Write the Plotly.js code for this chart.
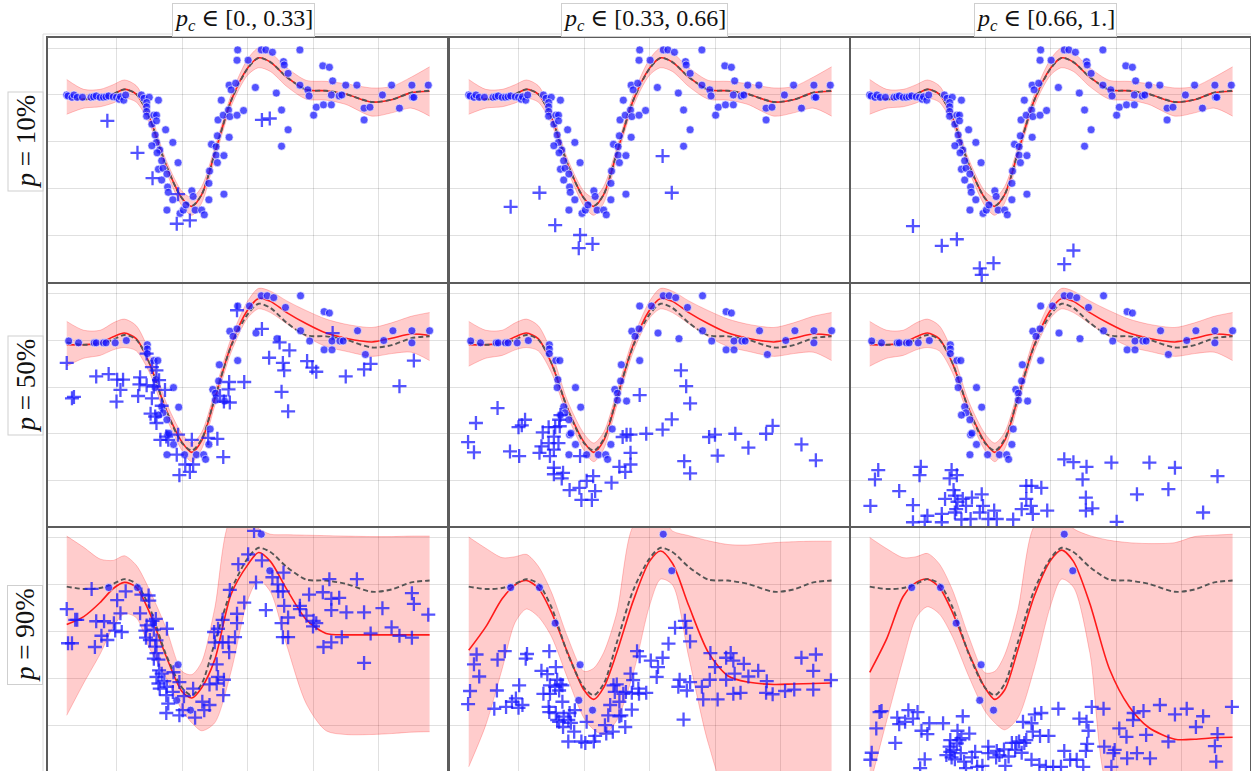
<!DOCTYPE html>
<html><head><meta charset="utf-8">
<script src="https://cdn.plot.ly/plotly-3.0.1.min.js"></script>
<style>html,body{margin:0;padding:0;background:#fff}#chart{width:1251px;height:771px}</style>
</head><body><div id="chart"></div>
<script>
// ---------- labels ----------
const colTitles = ["<i>p<sub>c</sub></i> ∈ [0., 0.33]", "<i>p<sub>c</sub></i> ∈ [0.33, 0.66]", "<i>p<sub>c</sub></i> ∈ [0.66, 1.]"];
const rowTitles = ["<i>p</i> = 10%", "<i>p</i> = 50%", "<i>p</i> = 90%"];

// ---------- GP grid, truth ----------
const gpX   = [-2.76,-2.5,-2.25,-2.05,-1.88,-1.7,-1.5,-1.25,-1.0,-0.85,-0.7,-0.5,-0.25,0,0.17,0.35,0.6,0.9,1.2,1.5,1.9,2.2,2.5,2.78];
const truthY= [0.96,0.91,0.93,1.02,1.12,1.02,0.53,-0.47,-1.2,-1.36,-1.12,-0.24,0.88,1.56,1.79,1.70,1.38,1.11,1.09,1.02,0.85,0.9,1.05,1.09];

// row p=10% (all columns)
const meanR1 = [0.96,0.91,0.93,1.02,1.12,1.02,0.53,-0.47,-1.2,-1.37,-1.12,-0.24,0.88,1.57,1.79,1.70,1.38,1.11,1.09,1.02,0.85,0.9,1.05,1.08];
const loR1   = [0.59,0.72,0.75,0.83,0.93,0.85,0.40,-0.60,-1.36,-1.56,-1.30,-0.37,0.76,1.42,1.58,1.50,1.18,0.91,0.89,0.80,0.55,0.62,0.72,0.55];
const hiR1   = [1.33,1.12,1.12,1.22,1.32,1.20,0.68,-0.36,-1.05,-1.18,-0.95,-0.12,1.00,1.76,2.00,1.90,1.58,1.31,1.29,1.24,1.15,1.18,1.38,1.60];
// row p=50% (all columns)
const meanR2 = [0.91,0.91,0.95,1.08,1.16,1.04,0.52,-0.46,-1.18,-1.40,-1.15,-0.25,0.90,1.65,1.90,1.84,1.60,1.36,1.16,1.05,0.97,1.05,1.14,1.11];
const loR2   = [0.45,0.62,0.68,0.80,0.85,0.78,0.32,-0.62,-1.36,-1.60,-1.33,-0.40,0.75,1.48,1.68,1.60,1.36,1.08,0.87,0.77,0.66,0.72,0.75,0.57];
const hiR2   = [1.41,1.22,1.22,1.38,1.46,1.32,0.76,-0.30,-1.00,-1.20,-0.97,-0.10,1.05,1.84,2.12,2.06,1.85,1.64,1.46,1.35,1.28,1.38,1.52,1.60];
// row p=90%
const meanR3C1 = [0.15,0.32,0.62,0.92,1.05,0.95,0.42,-0.50,-1.28,-1.42,-1.20,-0.60,0.80,1.42,1.69,1.50,0.90,0.25,-0.04,-0.07,-0.07,-0.07,-0.07,-0.07];
const loR3C1   = [-1.79,-1.10,-0.48,0.10,0.38,0.30,-0.35,-0.97,-1.68,-1.95,-2.12,-1.95,-0.85,0.66,1.10,0.85,-0.30,-1.55,-2.12,-2.20,-2.20,-2.18,-2.15,-2.14];
const hiR3C1   = [2.04,1.80,1.55,1.52,1.62,1.42,0.90,0.10,-0.85,-0.92,-0.65,0.50,2.40,2.40,2.20,2.08,2.07,2.06,2.05,2.04,2.03,2.03,2.04,2.04];
const meanR3C2 = [-0.40,0.10,0.70,1.00,1.09,0.93,0.42,-0.45,-1.25,-1.45,-1.20,-0.45,0.65,1.50,1.72,1.46,0.55,-0.45,-0.95,-1.08,-1.13,-1.12,-1.11,-1.10];
const loR3C2   = [-2.89,-2.00,-0.80,0.20,0.48,0.32,-0.10,-1.00,-1.85,-2.10,-2.20,-1.90,-0.90,0.55,1.12,1.00,-0.55,-2.40,-3.50,-3.50,-3.50,-3.50,-3.50,-3.50];
const hiR3C2   = [2.02,1.78,1.58,1.60,1.65,1.40,0.85,-0.12,-0.85,-0.78,-0.45,0.40,2.25,2.50,2.50,2.15,2.05,1.94,1.86,1.85,1.90,1.92,1.93,1.93];
const meanR3C3 = [-0.87,-0.15,0.75,1.05,1.12,0.95,0.42,-0.45,-1.20,-1.45,-1.25,-0.40,0.75,1.52,1.74,1.50,0.60,-0.80,-1.60,-2.05,-2.30,-2.30,-2.27,-2.26];
const loR3C3   = [-3.30,-1.90,-0.60,0.30,0.53,0.38,-0.10,-0.95,-1.70,-1.95,-2.10,-1.85,-0.80,0.55,1.12,0.95,-0.45,-3.40,-3.50,-3.50,-3.50,-3.50,-3.50,-3.50];
const hiR3C3   = [2.01,1.77,1.58,1.60,1.67,1.45,0.90,-0.10,-0.88,-0.85,-0.50,0.45,2.25,2.50,2.50,2.20,2.05,1.95,1.90,1.88,1.90,2.03,2.06,2.08];

// ---------- observed points (dots), shared within a row ----------
const dotsR1 = [[-2.76,1.00],[-2.74,0.98],[-2.68,0.95],[-2.65,1.00],[-2.60,0.95],[-2.52,0.95],[-2.39,0.95],[-2.35,0.96],[-2.31,0.98],[-2.25,0.95],[-2.20,0.95],[-2.16,0.96],[-2.12,0.98],[-2.05,0.96],[-2.00,0.95],[-1.96,0.91],[-1.94,0.96],[-1.89,0.89],[-1.86,1.00],[-1.62,1.00],[-1.58,0.93],[-1.50,0.95],[-1.54,0.84],[-1.54,0.75],[-1.54,0.65],[-1.54,0.55],[-1.43,0.57],[-1.39,0.57],[-1.46,0.38],[-1.39,0.45],[-1.36,0.89],[-1.41,0.15],[-1.39,-0.01],[-1.46,-0.08],[-1.34,-0.17],[-1.38,-0.23],[-1.31,-0.40],[-1.36,-0.58],[-1.29,-0.56],[-1.31,-0.81],[-1.23,-0.68],[-1.22,-0.96],[-1.21,-1.07],[-1.14,-1.23],[-1.23,-1.45],[-1.14,-0.01],[-1.25,0.26],[-1.06,-0.44],[-1.03,-1.52],[-0.98,-1.45],[-0.94,-1.34],[-0.85,-1.04],[-0.83,-1.16],[-0.80,-1.45],[-0.70,-1.45],[-0.66,-1.55],[-0.59,-1.23],[-0.59,-0.88],[-0.58,-0.62],[-0.55,-0.05],[-0.48,-0.28],[-0.46,-0.44],[-0.46,0.13],[-0.48,-0.10],[-0.45,0.47],[-0.40,0.89],[-0.37,0.57],[-0.36,-1.11],[-0.36,-0.29],[-0.29,0.68],[-0.28,0.10],[-0.28,1.21],[-0.25,1.11],[-0.27,0.54],[-0.18,1.25],[-0.15,1.96],[-0.16,1.74],[-0.16,0.57],[-0.06,0.67],[0.01,1.74],[0.12,1.16],[0.21,1.96],[0.28,1.96],[0.38,1.91],[0.44,1.04],[0.52,0.68],[0.52,-0.09],[0.55,1.71],[0.56,1.64],[0.62,1.46],[0.62,0.26],[0.80,1.96],[0.80,1.21],[0.92,1.11],[0.94,0.98],[1.01,0.57],[1.05,0.74],[1.15,1.62],[1.25,1.59],[1.16,0.79],[1.28,1.00],[1.30,1.30],[1.28,0.79],[1.40,0.98],[1.44,1.00],[1.50,1.21],[1.67,1.21],[1.78,0.72],[1.78,0.47],[1.87,0.74],[2.06,1.00],[2.20,1.21],[2.32,0.72],[2.51,1.21],[2.52,0.95],[2.54,0.95],[2.76,1.21]];
const dotsR2 = [[-2.73,0.99],[-2.58,0.95],[-2.34,0.95],[-2.31,0.95],[-2.20,0.95],[-2.16,0.95],[-2.02,0.95],[-1.85,1.00],[-1.53,0.91],[-1.53,0.82],[-1.53,0.72],[-1.43,0.57],[-1.37,0.57],[-1.40,0.16],[-1.41,-0.01],[-1.31,-0.42],[-1.29,-0.55],[-1.36,-0.60],[-1.23,-0.70],[-1.13,-0.01],[-1.05,-0.43],[-1.22,-1.02],[-1.20,-0.99],[-1.13,-1.23],[-1.23,-1.45],[-0.96,-1.45],[-0.78,-1.45],[-0.67,-1.45],[-0.64,-1.55],[-0.59,-1.23],[-0.57,-0.90],[-0.53,-0.05],[-0.49,-0.13],[-0.49,-0.28],[-0.44,0.13],[-0.43,0.48],[-0.35,-0.30],[-0.27,1.20],[-0.22,1.09],[-0.16,1.25],[-0.15,1.74],[-0.15,0.57],[0.03,1.74],[0.13,1.16],[0.21,1.96],[0.30,1.96],[0.40,1.92],[0.45,1.04],[0.58,1.71],[0.81,1.96],[0.81,1.21],[0.95,0.99],[1.17,1.62],[1.25,1.59],[1.17,0.80],[1.29,0.99],[1.29,0.80],[1.41,0.99],[1.46,0.99],[1.68,1.21],[1.80,0.70],[2.08,1.00],[2.22,1.21],[2.51,1.21],[2.51,0.95],[2.78,1.21]];
const dotsR3 = [[-2.12,0.94],[-1.68,0.94],[-1.44,0.18],[-1.06,-0.71],[-1.08,-1.47],[-0.87,-1.68],[0.21,2.08],[0.34,1.30]];

// ---------- censored points (crosses), per panel ----------
const crossR1C1 = [[-2.14,0.45],[-1.68,-0.23],[-1.45,-0.77],[-1.06,-1.11],[-1.08,-1.74],[-0.88,-1.67],[0.22,0.47],[0.34,0.50]];
const crossR1C2 = [[-2.12,-1.38],[-1.68,-1.08],[-1.44,-1.77],[-1.06,-1.98],[-1.08,-2.26],[-0.87,-2.17],[0.20,-0.30],[0.34,-1.08]];
const crossR1C3 = [[-2.10,-1.79],[-1.66,-2.21],[-1.43,-2.07],[-1.08,-2.69],[-1.05,-2.83],[-0.87,-2.58],[0.21,-2.60],[0.35,-2.31]];
const crossR2C1 = [[-2.76,0.52],[-2.68,-0.24],[-2.65,-0.21],[-2.31,0.23],[-2.12,0.28],[-1.99,0.16],[-1.90,0.16],[-1.94,-0.06],[-2.00,-0.31],[-1.67,-0.19],[-1.64,0.21],[-1.65,0.06],[-1.54,0.04],[-1.54,0.72],[-1.46,-0.24],[-1.46,0.43],[-1.39,0.36],[-1.35,0.15],[-1.43,0.01],[-1.48,-0.57],[-1.41,-0.63],[-1.39,-0.77],[-1.31,-0.40],[-1.26,-0.06],[-1.33,-1.13],[-1.24,-1.06],[-1.21,-1.13],[-1.06,-1.02],[-1.08,-1.45],[-0.95,-1.66],[-0.83,-1.66],[-1.04,-1.89],[-0.88,-1.82],[-0.85,-1.13],[-0.60,-1.09],[-0.46,-1.11],[-0.37,-1.50],[-0.42,-0.19],[-0.36,-0.31],[-0.27,-0.33],[-0.29,-0.05],[-0.28,0.11],[-0.05,0.11],[-0.16,1.65],[0.22,1.25],[0.33,0.63],[0.49,0.96],[0.54,0.52],[0.56,0.36],[0.52,-0.10],[0.62,-0.52],[0.64,0.79],[0.91,0.56],[0.99,0.42],[1.05,0.33],[1.30,1.16],[1.50,0.23],[1.78,0.38],[1.88,0.50],[2.32,0.02],[2.54,0.57]];
const crossR2C2 = [[-2.77,-1.18],[-2.68,-1.40],[-2.65,-0.77],[-2.32,-0.45],[-2.13,-1.38],[-1.99,-1.48],[-2.00,-0.86],[-1.95,-0.82],[-1.90,-0.70],[-1.68,-1.41],[-1.65,-1.27],[-1.63,-0.97],[-1.54,-0.86],[-1.52,-1.48],[-1.54,-1.20],[-1.46,-1.06],[-1.44,-0.86],[-1.46,-1.34],[-1.39,-1.20],[-1.38,-0.70],[-1.37,-0.84],[-1.36,-0.60],[-1.46,-1.73],[-1.46,-1.87],[-1.32,-1.84],[-1.34,-1.96],[-1.22,-2.21],[-1.07,-2.16],[-0.96,-2.01],[-0.86,-1.91],[-0.83,-2.23],[-0.88,-2.42],[-1.04,-2.42],[-1.06,-1.48],[-0.58,-2.05],[-0.46,-1.71],[-0.37,-1.82],[-0.29,-1.66],[-0.29,-1.41],[-0.41,-1.07],[-0.35,-1.02],[-0.29,-1.02],[-0.05,-1.00],[-0.15,-0.17],[0.20,-0.91],[0.34,-0.69],[0.48,0.36],[0.56,0.02],[0.62,-0.35],[0.53,-1.59],[0.62,-1.85],[0.91,-1.07],[1.00,-1.02],[1.04,-1.47],[1.31,-1.00],[1.51,-1.30],[1.78,-1.00],[1.88,-0.83],[2.32,-1.23],[2.54,-1.57]];
const crossR2C3 = [[-2.75,-2.55],[-2.68,-1.98],[-2.63,-1.78],[-2.31,-2.23],[-2.10,-2.53],[-2.10,-2.90],[-2.00,-1.89],[-1.98,-1.71],[-1.88,-2.76],[-1.92,-2.89],[-1.66,-2.72],[-1.61,-2.40],[-1.66,-2.90],[-1.54,-1.96],[-1.51,-1.78],[-1.43,-1.89],[-1.48,-2.21],[-1.46,-2.33],[-1.42,-2.46],[-1.44,-2.62],[-1.46,-2.69],[-1.34,-2.40],[-1.29,-2.55],[-1.36,-2.84],[-1.22,-2.83],[-1.20,-2.37],[-1.05,-2.30],[-1.03,-2.55],[-1.08,-2.69],[-0.95,-2.83],[-0.86,-2.65],[-0.82,-2.83],[-0.57,-2.84],[-0.44,-2.62],[-0.37,-2.40],[-0.37,-2.12],[-0.29,-2.12],[-0.27,-2.72],[-0.30,-2.55],[-0.14,-2.16],[-0.05,-2.65],[0.21,-1.55],[0.35,-1.61],[0.49,-1.98],[0.55,-1.71],[0.54,-2.37],[0.54,-2.65],[0.64,-2.60],[0.93,-1.62],[1.01,-2.89],[1.32,-2.30],[1.51,-1.62],[1.80,-2.19],[1.90,-1.73],[2.33,-2.69],[2.55,-1.91]];
const crossR3C1 = [[-2.76,0.48],[-2.74,-0.25],[-2.68,-0.25],[-2.63,0.25],[-2.60,0.25],[-2.38,0.91],[-2.33,-0.33],[-2.31,0.22],[-2.19,0.22],[-2.23,-0.09],[-2.14,-0.18],[-2.04,0.18],[-2.02,0.02],[-1.92,-0.01],[-1.99,0.67],[-1.94,0.39],[-1.86,0.86],[-1.62,0.79],[-1.64,0.39],[-1.54,0.13],[-1.56,0.02],[-1.51,0.77],[-1.50,0.66],[-1.55,-0.13],[-1.49,-0.18],[-1.45,0.23],[-1.43,0.04],[-1.40,0.27],[-1.39,-0.19],[-1.41,-0.32],[-1.39,-0.46],[-1.43,-0.58],[-1.36,-0.60],[-1.23,0.06],[-1.35,-0.83],[-1.31,-0.90],[-1.39,-0.97],[-1.36,-1.11],[-1.34,-1.22],[-1.27,-1.06],[-1.23,-1.18],[-1.24,-1.36],[-1.21,-1.54],[-1.24,-1.74],[-1.14,-1.29],[-1.13,-0.87],[-1.04,-1.08],[-0.97,-1.38],[-0.99,-1.68],[-1.04,-1.79],[-0.83,-1.22],[-0.80,-1.84],[-0.69,-1.50],[-0.66,-1.68],[-0.58,-1.57],[-0.58,-1.13],[-0.47,-0.70],[-0.47,-1.11],[-0.45,-0.97],[-0.36,-1.03],[-0.37,-1.36],[-0.51,-0.01],[-0.50,-0.23],[-0.45,0.06],[-0.38,0.25],[-0.38,-0.23],[-0.29,-0.23],[-0.28,-0.44],[-0.27,0.89],[-0.19,-0.12],[-0.16,0.18],[-0.16,0.38],[-0.14,1.44],[-0.05,0.62],[0.01,1.65],[0.13,1.05],[0.22,1.52],[0.28,0.46],[0.38,1.16],[0.46,1.01],[0.55,1.26],[0.47,0.86],[0.54,0.86],[0.56,0.55],[0.62,0.30],[0.52,0.18],[0.54,-0.12],[0.62,-0.12],[0.80,0.55],[0.80,0.48],[0.90,0.34],[0.94,0.79],[1.01,0.23],[1.00,0.11],[1.05,0.18],[1.15,0.84],[1.16,-0.33],[1.25,1.12],[1.28,0.70],[1.28,0.46],[1.28,-0.23],[1.40,0.72],[1.44,-0.12],[1.51,0.41],[1.67,1.12],[1.78,0.41],[1.78,-0.67],[1.88,-0.04],[2.06,0.50],[2.20,0.09],[2.32,-0.09],[2.51,0.82],[2.54,0.59],[2.51,-0.13],[2.76,0.36],[0.10,2.15]];
const crossR3C2 = [[-2.64,-0.49],[-2.68,-0.70],[-2.60,-0.96],[-2.74,-1.27],[-2.77,-1.55],[-2.32,-0.60],[-2.21,-0.42],[-2.33,-1.26],[-2.37,-1.65],[-2.19,-1.61],[-2.10,-1.50],[-2.04,-1.43],[-1.99,-1.15],[-2.00,-1.63],[-1.94,-1.57],[-1.89,-0.58],[-1.87,-0.48],[-1.53,-0.42],[-1.65,-0.84],[-1.56,-0.91],[-1.52,-1.15],[-1.43,-0.76],[-1.41,-1.03],[-1.36,-1.13],[-1.33,-1.15],[-1.62,-1.33],[-1.52,-1.33],[-1.44,-1.18],[-1.38,-1.26],[-1.54,-1.61],[-1.53,-1.72],[-1.43,-1.74],[-1.33,-1.50],[-1.31,-1.82],[-1.41,-1.89],[-1.38,-1.93],[-1.32,-2.04],[-1.22,-1.74],[-1.24,-1.89],[-1.20,-1.95],[-1.14,-1.68],[-1.15,-2.14],[-1.24,-2.35],[-1.04,-2.35],[-0.96,-1.93],[-0.98,-2.38],[-0.85,-2.35],[-0.83,-2.23],[-0.68,-2.00],[-0.56,-2.14],[-0.66,-2.18],[-0.63,-1.79],[-0.60,-1.57],[-0.55,-1.15],[-0.50,-1.13],[-0.46,-1.50],[-0.46,-1.81],[-0.43,-1.79],[-0.53,-1.29],[-0.37,-2.04],[-0.40,-1.33],[-0.36,-1.29],[-0.27,-1.31],[-0.27,-1.67],[-0.29,-0.90],[-0.25,-1.04],[-0.17,-1.22],[-0.16,-1.33],[-0.05,-1.31],[-0.19,-0.42],[-0.15,-0.53],[0.02,-0.62],[0.13,-0.76],[0.11,-0.97],[0.20,-0.56],[0.29,-0.26],[0.39,0.08],[0.54,0.23],[0.56,0.08],[0.62,-0.21],[0.46,-1.03],[0.44,-1.18],[0.57,-1.26],[0.52,-1.88],[0.62,-1.08],[0.80,-1.18],[0.82,-1.45],[0.93,-0.46],[1.00,-0.76],[0.92,-1.03],[1.04,-1.45],[1.17,-0.56],[1.24,-0.46],[1.28,-0.62],[1.30,-0.90],[1.28,-1.33],[1.17,-1.03],[1.39,-1.31],[1.44,-0.69],[1.51,-0.96],[1.66,-0.84],[1.79,-1.06],[1.78,-1.31],[1.88,-1.34],[2.07,-1.27],[2.21,-1.24],[2.32,-0.56],[2.54,-0.49],[2.50,-0.84],[2.50,-1.24],[2.77,-1.04]];
const crossR3C3 = [[-2.73,-2.59],[-2.75,-2.74],[-2.66,-2.07],[-2.61,-1.72],[-2.58,-1.70],[-2.37,-2.38],[-2.34,-1.84],[-2.31,-1.98],[-2.22,-1.93],[-2.17,-1.68],[-2.10,-1.86],[-2.03,-1.72],[-1.97,-2.12],[-1.92,-2.73],[-1.99,-2.92],[-1.88,-2.19],[-1.85,-1.96],[-1.64,-1.96],[-1.59,-2.64],[-1.53,-2.32],[-1.54,-2.46],[-1.53,-2.57],[-1.51,-2.69],[-1.46,-2.73],[-1.48,-2.53],[-1.42,-2.12],[-1.39,-2.32],[-1.43,-2.39],[-1.36,-2.28],[-1.34,-1.81],[-1.37,-2.60],[-1.32,-2.78],[-1.29,-2.92],[-1.24,-2.18],[-1.20,-2.69],[-1.15,-2.57],[-1.12,-2.89],[-1.04,-2.87],[-0.95,-2.46],[-0.95,-2.60],[-0.82,-2.55],[-0.83,-2.69],[-0.78,-2.64],[-0.71,-2.52],[-0.69,-2.87],[-0.64,-2.67],[-0.59,-2.38],[-0.54,-2.53],[-0.52,-2.38],[-0.48,-2.35],[-0.44,-2.59],[-0.40,-2.38],[-0.42,-1.93],[-0.37,-2.32],[-0.29,-1.96],[-0.27,-2.14],[-0.24,-1.77],[-0.16,-2.23],[-0.03,-2.23],[-0.14,-1.74],[-0.29,-2.74],[-0.17,-2.85],[-0.07,-2.89],[0.04,-2.89],[0.16,-2.89],[0.12,-1.65],[0.21,-2.55],[0.30,-2.74],[0.40,-2.74],[0.44,-1.86],[0.55,-1.93],[0.56,-2.40],[0.54,-2.55],[0.58,-2.12],[0.63,-1.61],[0.50,-2.89],[0.81,-1.65],[0.82,-2.46],[0.93,-2.89],[0.98,-2.53],[0.96,-2.60],[1.05,-2.07],[1.16,-2.25],[1.17,-2.71],[1.27,-1.74],[1.26,-1.89],[1.32,-2.60],[1.42,-1.70],[1.46,-2.21],[1.52,-2.71],[1.67,-1.57],[1.80,-2.35],[1.90,-1.77],[2.08,-1.65],[2.22,-2.04],[2.33,-1.81],[2.51,-2.45],[2.55,-2.19],[2.53,-2.78],[2.77,-1.61]];

// ---------- assemble ----------
const panels = [
  [{m:meanR1,lo:loR1,hi:hiR1,d:dotsR1,c:crossR1C1},{m:meanR1,lo:loR1,hi:hiR1,d:dotsR1,c:crossR1C2},{m:meanR1,lo:loR1,hi:hiR1,d:dotsR1,c:crossR1C3}],
  [{m:meanR2,lo:loR2,hi:hiR2,d:dotsR2,c:crossR2C1},{m:meanR2,lo:loR2,hi:hiR2,d:dotsR2,c:crossR2C2},{m:meanR2,lo:loR2,hi:hiR2,d:dotsR2,c:crossR2C3}],
  [{m:meanR3C1,lo:loR3C1,hi:hiR3C1,d:dotsR3,c:crossR3C1},{m:meanR3C2,lo:loR3C2,hi:hiR3C2,d:dotsR3,c:crossR3C2},{m:meanR3C3,lo:loR3C3,hi:hiR3C3,d:dotsR3,c:crossR3C3}]
];

const W = 1251, H = 771;
const colPx = [[48,447],[450,849],[851,1250]];
const rowPx = [[38,282],[284,526],[528,771]];
const BLUE = 'rgba(25,25,255,0.75)';

const traces = [];
const layout = {
  width: W, height: H, margin: {l:0, r:0, t:0, b:0},
  paper_bgcolor: '#fff', plot_bgcolor: '#fff', showlegend: false, hovermode: false,
  annotations: [], shapes: []
};

for (let r = 0; r < 3; r++) {
  for (let c = 0; c < 3; c++) {
    const k = r*3 + c + 1;
    const xs = k === 1 ? '' : String(k);
    const xr = 'x' + xs, yr = 'y' + xs;
    const p = panels[r][c];
    const common = {xaxis: xr, yaxis: yr, hoverinfo: 'skip', cliponaxis: true};
    traces.push(Object.assign({x: gpX, y: p.lo, mode: 'lines',
      line: {color: 'rgba(255,0,0,0.22)', width: 1, shape: 'spline', smoothing: 0.8}}, common));
    traces.push(Object.assign({x: gpX, y: p.hi, mode: 'lines', fill: 'tonexty', fillcolor: 'rgba(255,0,0,0.2)',
      line: {color: 'rgba(255,0,0,0.22)', width: 1, shape: 'spline', smoothing: 0.8}}, common));
    traces.push(Object.assign({x: gpX, y: p.m, mode: 'lines',
      line: {color: '#ff1a1a', width: 1.6, shape: 'spline', smoothing: 0.8}}, common));
    traces.push(Object.assign({x: gpX, y: truthY, mode: 'lines',
      line: {color: '#555555', width: 1.9, dash: '5px,3px', shape: 'spline', smoothing: 0.8}}, common));
    traces.push(Object.assign({x: p.d.map(q => q[0]), y: p.d.map(q => q[1]), mode: 'markers',
      marker: {size: 8, color: BLUE, line: {color: '#fff', width: 0.6}}}, common));
    traces.push(Object.assign({x: p.c.map(q => q[0]), y: p.c.map(q => q[1]), mode: 'markers',
      marker: {symbol: 'cross-thin', size: 10, color: BLUE, line: {color: BLUE, width: 2.3}}}, common));

    const axBase = {showticklabels: false, ticks: '', showgrid: true, gridcolor: 'rgba(0,0,0,0.12)', gridwidth: 1,
      zeroline: false, showline: true, mirror: true, linecolor: '#5c5c5c', linewidth: 1.6, fixedrange: true,
      tickvals: [-2,-1,0,1,2]};
    layout['xaxis' + xs] = Object.assign({}, axBase, {domain: [colPx[c][0]/W, colPx[c][1]/W],
      range: [-3.046, 3.046], anchor: yr});
    layout['yaxis' + xs] = Object.assign({}, axBase, {domain: [1 - rowPx[r][1]/H, 1 - rowPx[r][0]/H],
      range: [-2.98, 2.213], anchor: xr});
  }
}

// outer faint frame
layout.shapes.push({type: 'rect', xref: 'paper', yref: 'paper', x0: 43/W, x1: 1.01, y0: -0.01, y1: 1 - 34/H,
  line: {color: '#dcdcdc', width: 1}, layer: 'below'});

const colCenters = [243.5, 644.5, 1045];
colTitles.forEach((t, i) => layout.annotations.push({
  text: t, xref: 'paper', yref: 'paper', x: colCenters[i]/W, y: 1 - 20/H, xanchor: 'center', yanchor: 'middle',
  showarrow: false, font: {family: 'Liberation Serif, DejaVu Serif, serif', size: 24, color: '#111'},
  bordercolor: '#cfcfcf', borderwidth: 1, borderpad: 1, bgcolor: '#fff'
}));
const rowCenters = [141.5, 385.5, 635];
rowTitles.forEach((t, i) => layout.annotations.push({
  text: t, xref: 'paper', yref: 'paper', x: 25/W, y: 1 - rowCenters[i]/H, xanchor: 'center', yanchor: 'middle',
  textangle: -90, showarrow: false, font: {family: 'Liberation Serif, DejaVu Serif, serif', size: 27, color: '#111'},
  bordercolor: '#cfcfcf', borderwidth: 1, borderpad: 2, bgcolor: '#fff'
}));

Plotly.newPlot('chart', traces, layout, {staticPlot: true, displayModeBar: false});
</script>
</body></html>
